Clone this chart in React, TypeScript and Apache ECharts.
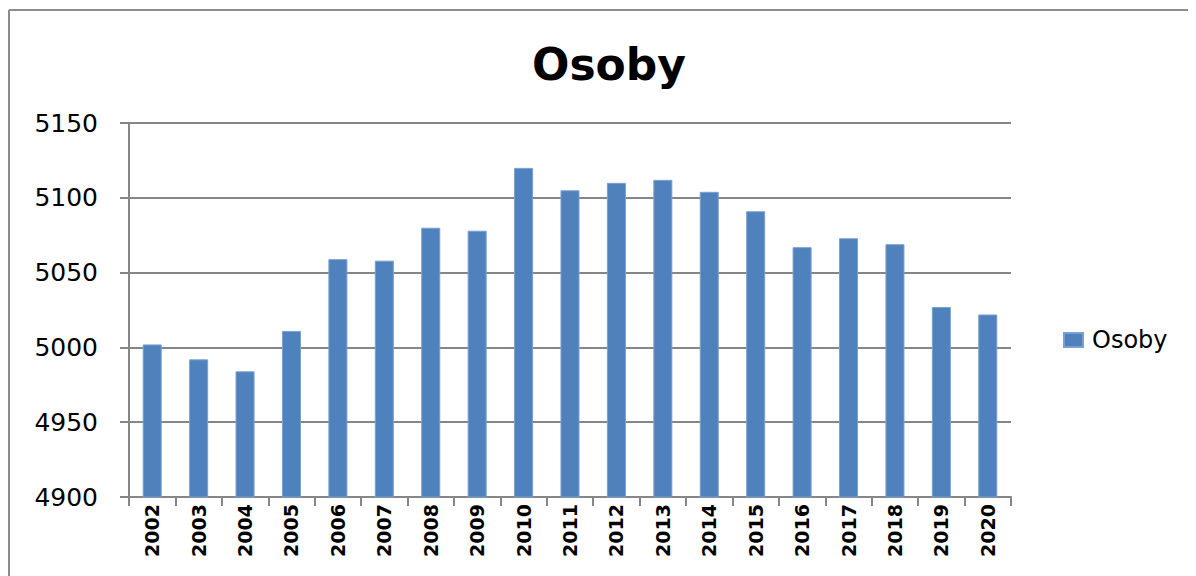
import React, { useEffect, useRef } from "react";
import * as echarts from "echarts";

const categories = ["2002","2003","2004","2005","2006","2007","2008","2009","2010","2011","2012","2013","2014","2015","2016","2017","2018","2019","2020"];
const osoby = [5002, 4992, 4984, 5011, 5059, 5058, 5080, 5078, 5120, 5105, 5110, 5112, 5104, 5091, 5067, 5073, 5069, 5027, 5022];
const seriesName = "Osoby";
const titleText = "Osoby";

export default function App() {
  const ref = useRef<HTMLDivElement>(null);
  useEffect(() => {
    if (!ref.current) return;
    const chart = echarts.init(ref.current, undefined, { renderer: "svg" });
    const grey = "#868686";
    chart.setOption({
      animation: false,
      backgroundColor: "#ffffff",
      title: {
        text: titleText,
        left: 596,
        textAlign: "center",
        top: 29,
        textStyle: { fontFamily: "DejaVu Sans", fontWeight: "bold", fontSize: 44, color: "#000" },
      },
      legend: {
        data: [seriesName],
        left: 1050,
        top: 315,
        orient: "vertical",
        itemWidth: 19,
        itemHeight: 14,
        icon: "rect",
        textStyle: { fontFamily: "DejaVu Sans", fontSize: 24, color: "#000", padding: [0, 0, 0, 4] },
      },
      grid: { left: 121, right: 185, top: 115, bottom: 79 },
      xAxis: {
        type: "category",
        data: categories,
        axisLine: { show: true, lineStyle: { color: grey, width: 2 } },
        axisTick: { show: true, length: 9, lineStyle: { color: grey, width: 2 } },
        axisLabel: {
          rotate: 90,
          margin: 7,
          fontFamily: "DejaVu Sans",
          fontWeight: "bold",
          fontSize: 19,
          color: "#000",
        },
      },
      yAxis: {
        type: "value",
        min: 4900,
        max: 5150,
        interval: 50,
        axisLine: { show: true, lineStyle: { color: grey, width: 2 } },
        axisTick: { show: true, length: 9, lineStyle: { color: grey, width: 2 } },
        splitLine: { show: true, lineStyle: { color: grey, width: 2 } },
        axisLabel: {
          margin: 31,
          fontFamily: "DejaVu Sans",
          fontSize: 25,
          color: "#000",
          formatter: (v: number) => String(v),
        },
      },
      graphic: [
        { type: "line", shape: { x1: 1, y1: 2, x2: 1200, y2: 2 }, style: { stroke: "#8c8c8c", lineWidth: 2 } },
        { type: "line", shape: { x1: 1, y1: 2, x2: 1, y2: 600 }, style: { stroke: "#8c8c8c", lineWidth: 2 } },
      ],
      series: [
        {
          name: seriesName,
          type: "bar",
          data: osoby,
          barWidth: "41%",
          itemStyle: { color: "#4F81BD", borderColor: "#7BA0CD", borderWidth: 1 },
        },
      ],
    });
    return () => chart.dispose();
  }, []);
  return <div ref={ref} style={{ width: 1188, height: 568 }} />;
}
